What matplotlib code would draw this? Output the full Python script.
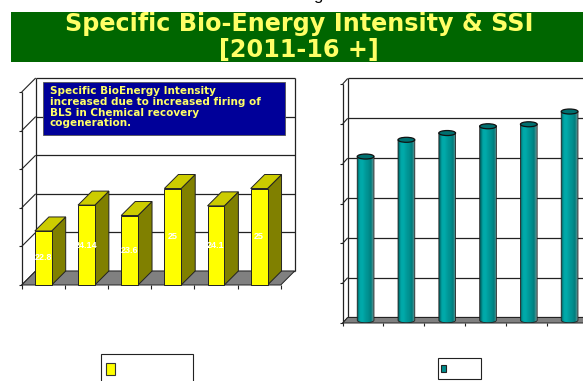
import numpy as np
import matplotlib
matplotlib.use("Agg")
import matplotlib.pyplot as plt
from matplotlib import font_manager as fm
from matplotlib.patches import Polygon, Rectangle, Ellipse, PathPatch
from matplotlib.path import Path
from matplotlib.colors import LinearSegmentedColormap

# ---------------- data ----------------
years = ["2011-12", "2012-13", "2013-14", "2014-15", "2015-16", "2016-17"]
bio_energy = [22.8, 24.14, 23.6, 25.0, 24.1, 25.0]
bio_labels = ["22.8", "24.14", "23.6", "25", "24.1", "25"]
ssi = [4.11, 4.53, 4.70, 4.87, 4.92, 5.24]
bio_ticks = [20, 22, 24, 26, 28, 30]
ssi_ticks = [0, 1, 2, 3, 4, 5, 6]

note_text = ("Specific BioEnergy Intensity\nincreased due to increased firing of\n"
             "BLS in Chemical recovery\ncogeneration.")

plt.rcParams['font.family'] = ['DejaVu Sans']


def find_font(fname):
    for p in fm.findSystemFonts():
        if p.split('/')[-1].lower() == fname.lower():
            return p
    return None


narrow_path = find_font('LiberationSansNarrow-Bold.ttf')
reg_path = find_font('LiberationSans-Regular.ttf')


def wide_bold(size):
    return fm.FontProperties(family='DejaVu Sans', weight='bold', size=size)


def narrow_bold(size):
    if narrow_path:
        return fm.FontProperties(fname=narrow_path, size=size)
    return fm.FontProperties(family=['Liberation Sans', 'DejaVu Sans'], weight='bold', size=size * 0.85)


W, H = 583, 381
fig = plt.figure(figsize=(W / 100, H / 100), dpi=100)
fig.patch.set_facecolor('white')


def fx(px):
    return px / W


def fy(py):
    return 1 - py / H


LINE = '#222222'

# ---------------- title band ----------------
fig.patches.append(Rectangle((fx(11), fy(62)), fx(583 - 11), 50 / H, transform=fig.transFigure,
                             facecolor='#006600', edgecolor='none', zorder=0))
fig.text(fx(299), fy(30.5), "Specific Bio-Energy Intensity & SSI", color='#FFFF66',
         fontproperties=wide_bold(17.2), ha='center', va='baseline')
fig.text(fx(299), fy(57), "[2011-16 +]", color='#FFFF66', fontproperties=wide_bold(17.2),
         ha='center', va='baseline')
gprops = fm.FontProperties(fname=reg_path, size=12) if reg_path else fm.FontProperties(size=12)
fig.text(fx(318), 1 + 0.3 / H, "g", color='black', fontproperties=gprops,
         ha='center', va='baseline')


def poly(ax, pts, fc, ec=LINE, lw=0.7, z=2):
    ax.add_patch(Polygon(pts, closed=True, facecolor=fc, edgecolor=ec, linewidth=lw,
                         clip_on=False, zorder=z))


def line(ax, xs, ys, lw=0.9, color=LINE, z=1):
    ax.plot(xs, ys, color=color, linewidth=lw, clip_on=False, zorder=z, solid_capstyle='butt')


# ---------------- left chart: 3D boxes ----------------
ax1 = fig.add_axes([fx(21.7), fy(285), fx(259), 193 / H])
ax1.set_xlim(-0.5, len(years) - 0.5)
ax1.set_ylim(bio_ticks[0], bio_ticks[-1])
ax1.axis('off')
DX1, DY1 = 14 / 43.17, 14 / 19.3
n = len(years)
x0, x1 = -0.5, n - 0.5
y0, ytop = bio_ticks[0], bio_ticks[-1]

for t in bio_ticks:
    line(ax1, [x0 + DX1, x1 + DX1], [t + DY1, t + DY1])
    line(ax1, [x0, x0 + DX1], [t, t + DY1], lw=0.8)
    line(ax1, [x0 - 0.07, x0], [t, t], lw=0.8)
line(ax1, [x0 + DX1, x0 + DX1], [y0 + DY1, ytop + DY1])
line(ax1, [x1 + DX1, x1 + DX1], [y0 + DY1, ytop + DY1])
line(ax1, [x0, x0], [y0, ytop])
for k in range(n + 1):
    line(ax1, [x0 + k, x0 + k], [y0, y0 - 0.2], lw=0.8)
poly(ax1, [(x0, y0), (x1, y0), (x1 + DX1, y0 + DY1), (x0 + DX1, y0 + DY1)], '#808080', z=1.5)

bw = 0.39
for i, (v, lab) in enumerate(zip(bio_energy, bio_labels)):
    l, r = i - bw / 2, i + bw / 2
    poly(ax1, [(r, y0), (r, v), (r + DX1, v + DY1), (r + DX1, y0 + DY1)], '#808000', z=3)
    poly(ax1, [(l, v), (r, v), (r + DX1, v + DY1), (l + DX1, v + DY1)], '#CCCC00', z=3)
    poly(ax1, [(l, y0), (r, y0), (r, v), (l, v)], '#FFFF00', z=3)
    ax1.text(i, (y0 + v) / 2, lab, color='white', fontproperties=narrow_bold(7.6),
             ha='center', va='center', zorder=4)

# annotation box
fig.patches.append(Rectangle((fx(43), fy(135)), fx(285 - 43), 53 / H, transform=fig.transFigure,
                             facecolor='#000099', edgecolor='#555555', linewidth=0.6, zorder=5))
fig.text(fx(50), fy(86), note_text, color='#FFFF66', fontproperties=wide_bold(7.5),
         ha='left', va='top', linespacing=1.1, zorder=6)

# ---------------- right chart: cylinders ----------------
ax2 = fig.add_axes([fx(342.7), fy(323), fx(244.8), 239 / H])
DX2, DY2 = 5 / 40.8, 5.5 / 39.83
y0b, ytb = ssi_ticks[0], ssi_ticks[-1]
for t in ssi_ticks:
    line(ax2, [x0 + DX2, x1 + DX2], [t + DY2, t + DY2])
    line(ax2, [x0, x0 + DX2], [t, t + DY2], lw=0.8)
    line(ax2, [x0 - 0.07, x0], [t, t], lw=0.8)
line(ax2, [x0 + DX2, x0 + DX2], [y0b + DY2, ytb + DY2])
line(ax2, [x1 + DX2, x1 + DX2], [y0b + DY2, ytb + DY2])
line(ax2, [x0, x0], [y0b, ytb])
for k in range(n + 1):
    line(ax2, [x0 + k, x0 + k], [y0b, y0b - 0.08], lw=0.8)
poly(ax2, [(x0, y0b), (x1, y0b), (x1 + DX2, y0b + DY2), (x0 + DX2, y0b + DY2)], '#808080', z=1.5)

cmap = LinearSegmentedColormap.from_list('cyl', ['#005a5a', '#00a8a8', '#00aaaa', '#009a9a',
                                                  '#008f8f', '#007d7d', '#6f9a9a'])
grad = np.linspace(0, 1, 64).reshape(1, -1)
cw = 0.41
eh = 5 / 39.83
base = y0b + DY2 / 2
theta = np.linspace(np.pi, 2 * np.pi, 30)
for i, v in enumerate(ssi):
    cx = i + DX2 / 2
    top = base + v
    l, r = cx - cw / 2, cx + cw / 2
    arc = [(cx + cw / 2 * np.cos(t), base + eh / 2 * np.sin(t)) for t in theta]
    verts = [(l, top)] + arc + [(r, top), (l, top)]
    codes = [Path.MOVETO] + [Path.LINETO] * (len(verts) - 2) + [Path.CLOSEPOLY]
    body = PathPatch(Path(verts, codes), facecolor='none', edgecolor=LINE, linewidth=0.6,
                     zorder=3.1, transform=ax2.transData)
    im = ax2.imshow(grad, cmap=cmap, extent=[l, r, base - eh / 2, top], aspect='auto',
                    zorder=3, interpolation='bilinear')
    ax2.add_patch(body)
    im.set_clip_path(body)
    ax2.add_patch(Ellipse((cx, top), cw, eh, facecolor='#006f6f', edgecolor='#111111',
                          linewidth=0.9, zorder=3.2))
ax2.set_xlim(x0, x1)
ax2.set_ylim(y0b, ytb)
ax2.axis('off')

# ---------------- legend boxes ----------------
fig.patches.append(Rectangle((fx(100.7), fy(385)), fx(193 - 100.7), 31 / H, transform=fig.transFigure,
                             facecolor='white', edgecolor='#222222', linewidth=0.8, zorder=5))
fig.patches.append(Rectangle((fx(106), fy(375)), fx(9), 12 / H, transform=fig.transFigure,
                             facecolor='#FFFF00', edgecolor='#333333', linewidth=0.8, zorder=6))
fig.patches.append(Rectangle((fx(438), fy(378.7)), fx(480.7 - 438), 20.7 / H, transform=fig.transFigure,
                             facecolor='white', edgecolor='#222222', linewidth=0.8, zorder=5))
fig.patches.append(Rectangle((fx(441), fy(372)), fx(5), 7 / H, transform=fig.transFigure,
                             facecolor='#008c8c', edgecolor='#222222', linewidth=0.8, zorder=6))

fig.savefig('out.png', dpi=100)
